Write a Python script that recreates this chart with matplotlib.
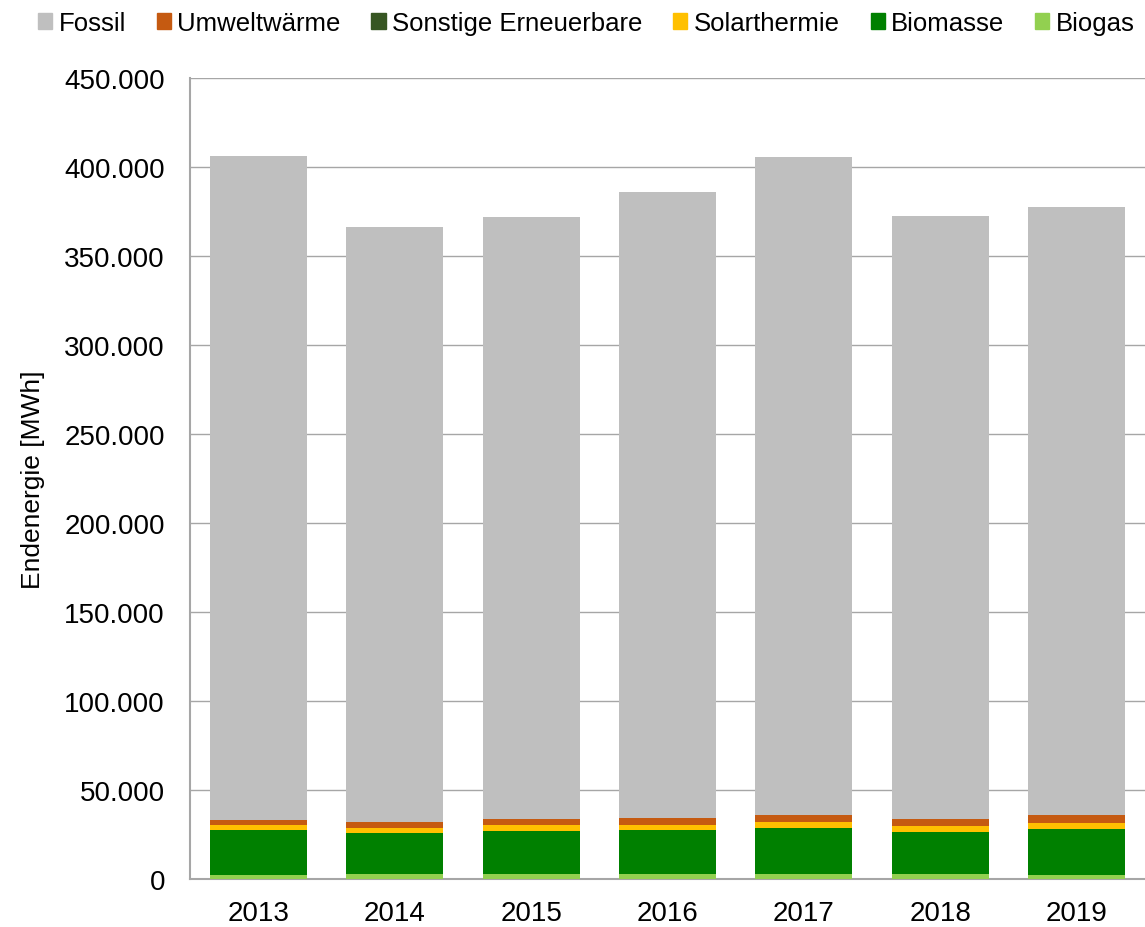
import matplotlib.pyplot as plt
from matplotlib.ticker import FuncFormatter, MultipleLocator
from matplotlib.patches import Patch

plt.rcParams['font.family'] = ['Liberation Sans', 'DejaVu Sans']

# Data (MWh)
years = ['2013', '2014', '2015', '2016', '2017', '2018', '2019']
biogas = [2200, 2600, 2600, 2600, 2600, 2600, 2200]
biomasse = [25500, 23400, 24500, 24900, 26200, 23600, 26100]
solarthermie = [2600, 2800, 3100, 3000, 3200, 3400, 3300]
sonstige = [0, 0, 0, 0, 0, 0, 0]
umweltwaerme = [2800, 3200, 3500, 3800, 4000, 4100, 4500]
fossil = [373100, 334300, 338200, 351700, 369600, 338800, 341400]

# stacking order bottom -> top
series = [
    ('Biogas', biogas, '#92d050'),
    ('Biomasse', biomasse, '#008000'),
    ('Solarthermie', solarthermie, '#ffc000'),
    ('Sonstige Erneuerbare', sonstige, '#375623'),
    ('Umweltwärme', umweltwaerme, '#c55a11'),
    ('Fossil', fossil, '#bfbfbf'),
]

fig = plt.figure(figsize=(11.45, 9.28), dpi=100)
ax = fig.add_axes([190 / 1145, 48 / 928, 955 / 1145, 801 / 928])

x = list(range(len(years)))
bottom = [0] * len(years)
for name, vals, color in series:
    ax.bar(x, vals, 0.71, bottom=bottom, color=color, zorder=3)
    bottom = [b + v for b, v in zip(bottom, vals)]

ax.set_xlim(-0.5, 6.5)
ax.set_ylim(0, 450000)
ax.yaxis.set_major_locator(MultipleLocator(50000))
ax.yaxis.set_major_formatter(FuncFormatter(lambda v, p: f'{int(v):,}'.replace(',', '.')))
ax.set_xticks(x)
ax.set_xticklabels(years)
ax.tick_params(axis='both', labelsize=20, length=0, colors='#000000')
ax.tick_params(axis='y', pad=18)
ax.tick_params(axis='x', pad=15)
ax.grid(axis='y', color='#a6a6a6', linewidth=1, zorder=0)

for s in ['top', 'right']:
    ax.spines[s].set_visible(False)
for s in ['left', 'bottom']:
    ax.spines[s].set_color('#a6a6a6')
    ax.spines[s].set_linewidth(1.5)

ax.set_ylabel('Endenergie [MWh]', fontsize=19, labelpad=14)

# legend in reversed stacking order
handles = [Patch(color=c, label=n) for n, v, c in reversed(series)]
fig.legend(handles=handles, loc='upper center', bbox_to_anchor=(0.512, 1.012),
           ncol=6, frameon=False, fontsize=18.5, handlelength=0.55, handleheight=0.55,
           handletextpad=0.25, columnspacing=1.2)

plt.savefig('out.png', dpi=100)
